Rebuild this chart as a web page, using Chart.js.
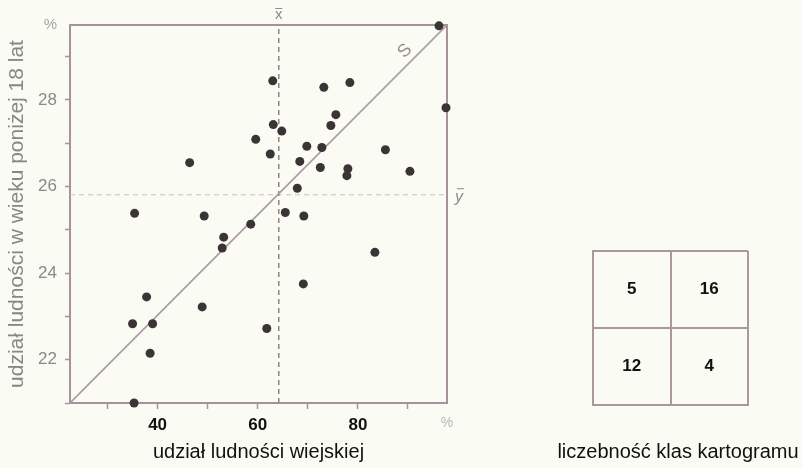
<!DOCTYPE html>
<html>
<head>
<meta charset="utf-8">
<script src="https://cdn.jsdelivr.net/npm/chart.js@4.4.1/dist/chart.umd.min.js"></script>
<style>
  html, body { margin: 0; padding: 0; background: #fafbf3; width: 802px; height: 468px; overflow: hidden; }
  #main { position: absolute; left: 0; top: 0; }
  #cells { position: absolute; left: 554px; top: 230px; }
</style>
</head>
<body>
<canvas id="main" width="480" height="468"></canvas>
<canvas id="cells" width="248" height="238"></canvas>
<script>
// Share of rural population (%) and share of population under 18 (%) per unit
const ruralShare = [46.4, 59.6, 96.2, 63.0, 73.2, 78.4, 97.6, 75.6, 74.6, 63.1,
                    64.8, 69.8, 72.8, 85.5, 62.5, 68.4, 72.5, 78.0, 77.8, 90.4,
                    67.9, 65.5, 35.4, 49.3, 58.6, 53.2, 52.9, 37.8, 48.9, 35.0,
                    39.0, 38.5, 35.3, 69.2, 83.4, 69.1, 61.8];
const youthShare = [26.55, 27.09, 29.71, 28.44, 28.29, 28.40, 27.82, 27.66, 27.41, 27.43,
                    27.28, 26.93, 26.90, 26.85, 26.75, 26.58, 26.44, 26.41, 26.25, 26.35,
                    25.96, 25.40, 25.38, 25.32, 25.13, 24.83, 24.58, 23.45, 23.22, 22.83,
                    22.83, 22.15, 21.00, 25.32, 24.48, 23.75, 22.72];

// Axis extents and means
const xRange = [22.5, 97.8];
const yRange = [21, 29.73];
const xMean = 64.2;
const yMean = 25.81;

// Tick values and labels
const xTickValues = [30, 40, 50, 60, 70, 80, 90];
const xTickLabels = ['', '40', '', '60', '', '80', ''];
const yTickValues = [21, 22, 23, 24, 25, 26, 27, 28, 29];
const yTickLabels = ['', '22', '', '24', '', '26', '', '28', ''];
const unitLabel = '%';

// Class counts of the cartogram (2 x 2 table)
const cellColumns = [0, 1, 0, 1];
const cellRows = [1, 1, 0, 0];
const classCounts = [5, 16, 12, 4];

const FONT = '"Liberation Sans", Arial, Helvetica, sans-serif';
const frameColor = '#a7919a';
const lineColor = '#ac99a1';
const dotColor = '#3b3436';

const points = ruralShare.map((x, i) => ({ x, y: youthShare[i] }));

const frame = {
  id: 'frame',
  beforeDatasetsDraw(chart) {
    const { ctx, chartArea: a } = chart;
    ctx.save();
    ctx.strokeStyle = frameColor;
    ctx.lineWidth = 2;
    ctx.beginPath();
    ctx.moveTo(a.left - 1, a.top);
    ctx.lineTo(a.right, a.top);
    ctx.lineTo(a.right, a.bottom + 1);
    ctx.stroke();
    ctx.restore();
  }
};

const marks = {
  id: 'marks',
  afterDraw(chart) {
    const { ctx, chartArea: a, scales } = chart;
    ctx.save();
    // x-bar label above the mean line
    const mx = scales.x.getPixelForValue(xMean);
    ctx.fillStyle = '#8e8a8c';
    ctx.font = '15px ' + FONT;
    ctx.textAlign = 'center';
    ctx.textBaseline = 'alphabetic';
    ctx.fillText('x', mx, a.top - 6);
    ctx.strokeStyle = '#8e8a8c';
    ctx.lineWidth = 1;
    ctx.beginPath();
    ctx.moveTo(mx - 3.5, a.top - 16.5);
    ctx.lineTo(mx + 3.5, a.top - 16.5);
    ctx.stroke();
    // y-bar label right of the frame
    const my = scales.y.getPixelForValue(yMean);
    ctx.font = 'italic 16px ' + FONT;
    ctx.textAlign = 'left';
    ctx.fillText('y', a.right + 8, my + 7);
    ctx.beginPath();
    ctx.moveTo(a.right + 10, my - 6);
    ctx.lineTo(a.right + 17, my - 6);
    ctx.stroke();
    // S label along the diagonal
    const x0 = scales.x.getPixelForValue(xRange[0]), y0 = scales.y.getPixelForValue(yRange[0]);
    const x1 = scales.x.getPixelForValue(xRange[1]), y1 = scales.y.getPixelForValue(yRange[1]);
    const t = 0.91;
    const sx = x0 + (x1 - x0) * t - 8, sy = y0 + (y1 - y0) * t - 8;
    ctx.translate(sx, sy);
    ctx.rotate(Math.atan2(y1 - y0, x1 - x0));
    ctx.fillStyle = '#9c8b93';
    ctx.font = '18px ' + FONT;
    ctx.textAlign = 'center';
    ctx.textBaseline = 'middle';
    ctx.fillText('S', 0, 0);
    ctx.restore();
  }
};

new Chart(document.getElementById('main'), {
  type: 'scatter',
  data: {
    datasets: [
      {
        data: points,
        pointRadius: 4.5,
        pointBorderWidth: 0,
        pointBackgroundColor: dotColor,
        clip: false
      },
      {
        data: [{ x: xRange[0], y: yRange[0] }, { x: xRange[1], y: yRange[1] }],
        showLine: true, pointRadius: 0, borderColor: lineColor, borderWidth: 1.6
      },
      {
        data: [{ x: xMean, y: yRange[0] }, { x: xMean, y: yRange[1] }],
        showLine: true, pointRadius: 0, borderColor: '#8f8589', borderWidth: 1.5, borderDash: [5, 4]
      },
      {
        data: [{ x: xRange[0], y: yMean }, { x: xRange[1], y: yMean }],
        showLine: true, pointRadius: 0, borderColor: '#c9bec2', borderWidth: 1.2, borderDash: [5, 4]
      }
    ]
  },
  options: {
    responsive: false,
    animation: false,
    events: [],
    layout: { padding: { left: 0, top: 25, right: 33, bottom: 0 } },
    plugins: { legend: { display: false }, tooltip: { enabled: false } },
    scales: {
      x: {
        type: 'linear',
        min: xRange[0],
        max: xRange[1],
        afterBuildTicks: s => { s.ticks = xTickValues.concat([xRange[1]]).map(v => ({ value: v })); },
        afterFit: s => { s.height = 65; },
        ticks: {
          autoSkip: false,
          maxRotation: 0,
          padding: 6,
          callback: v => v === xRange[1] ? unitLabel : (xTickLabels[xTickValues.indexOf(v)] || ''),
          color: c => (c.tick && c.tick.value === xRange[1]) ? '#bdb4b7' : '#111111',
          font: c => (c.tick && c.tick.value === xRange[1])
            ? { family: FONT, size: 14 }
            : { family: FONT, size: 17, weight: 'bold' }
        },
        grid: {
          drawOnChartArea: false,
          tickLength: 6,
          tickWidth: 1.5,
          tickColor: c => (c.tick && c.tick.value === xRange[1]) ? 'rgba(0,0,0,0)' : frameColor
        },
        border: { color: frameColor, width: 2 },
        title: {
          display: true,
          text: 'udział ludności wiejskiej',
          color: '#111111',
          font: { family: FONT, size: 20 },
          padding: { top: 0, bottom: 4 }
        }
      },
      y: {
        type: 'linear',
        min: yRange[0],
        max: yRange[1],
        afterBuildTicks: s => { s.ticks = yTickValues.concat([yRange[1]]).map(v => ({ value: v })); },
        afterFit: s => { s.width = 70; },
        ticks: {
          autoSkip: false,
          padding: 8,
          callback: v => v === yRange[1] ? unitLabel : (yTickLabels[yTickValues.indexOf(v)] || ''),
          color: c => (c.tick && c.tick.value === yRange[1]) ? '#aaa2a5' : '#8d8789',
          font: c => (c.tick && c.tick.value === yRange[1])
            ? { family: FONT, size: 15 }
            : { family: FONT, size: 17 }
        },
        grid: {
          drawOnChartArea: false,
          tickLength: 5,
          tickWidth: 1.5,
          tickColor: c => (c.tick && c.tick.value === yRange[1]) ? 'rgba(0,0,0,0)' : frameColor
        },
        border: { color: frameColor, width: 2 },
        title: {
          display: true,
          text: 'udział ludności w wieku poniżej 18 lat',
          color: '#8a8587',
          font: { family: FONT, size: 21 },
          padding: { top: 5, bottom: 5 }
        }
      }
    }
  },
  plugins: [frame, marks]
});

// Count labels inside the 2 x 2 table
const cellText = {
  id: 'cellText',
  afterDatasetsDraw(chart) {
    const { ctx } = chart;
    const meta = chart.getDatasetMeta(0);
    ctx.save();
    ctx.fillStyle = '#111111';
    ctx.font = 'bold 17px ' + FONT;
    ctx.textAlign = 'center';
    ctx.textBaseline = 'middle';
    meta.data.forEach((el, i) => ctx.fillText(String(classCounts[i]), el.x, el.y));
    ctx.restore();
  }
};

const gridColor = '#ab989f';
new Chart(document.getElementById('cells'), {
  type: 'scatter',
  data: {
    datasets: [{
      data: cellColumns.map((c, i) => ({ x: c + 0.5, y: cellRows[i] + 0.5 })),
      pointRadius: 0
    }]
  },
  options: {
    responsive: false,
    animation: false,
    events: [],
    layout: { padding: { left: 0, top: 21, right: 0, bottom: 0 } },
    plugins: {
      legend: { display: false },
      tooltip: { enabled: false },
      title: {
        display: true,
        position: 'bottom',
        text: 'liczebność klas kartogramu',
        color: '#111111',
        font: { family: FONT, size: 20, weight: 'normal' },
        padding: { top: 35, bottom: 4 }
      }
    },
    scales: {
      x: {
        type: 'linear', min: 0, max: 2,
        ticks: { display: false, stepSize: 1 },
        grid: { color: gridColor, lineWidth: 2, drawTicks: false },
        border: { color: gridColor, width: 2 },
        afterFit: s => { s.height = 0; }
      },
      y: {
        type: 'linear', min: 0, max: 2,
        ticks: { display: false, stepSize: 1 },
        grid: { color: gridColor, lineWidth: 2, drawTicks: false },
        border: { color: gridColor, width: 2 },
        afterFit: s => { s.width = 39; }
      },
      yRight: {
        type: 'linear', position: 'right', min: 0, max: 2,
        ticks: { display: false },
        grid: { display: false, drawTicks: false },
        border: { display: false },
        afterFit: s => { s.width = 54; }
      }
    }
  },
  plugins: [cellText]
});
</script>
</body>
</html>
